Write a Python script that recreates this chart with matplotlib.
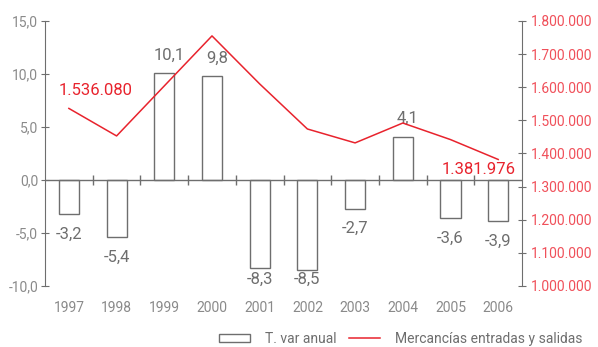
import numpy as np
import matplotlib
matplotlib.use("Agg")
import matplotlib.pyplot as plt
from matplotlib.patches import Patch
from matplotlib.lines import Line2D
from matplotlib.ticker import FuncFormatter

plt.rcParams["font.family"] = ["Roboto", "DejaVu Sans"]

years = ["1997", "1998", "1999", "2000", "2001", "2002", "2003", "2004", "2005", "2006"]
var_anual = [-3.2, -5.4, 10.1, 9.8, -8.3, -8.5, -2.7, 4.1, -3.6, -3.9]
mercancias = [1536080, 1453000, 1604000, 1755000, 1610000, 1474000, 1432000, 1492000, 1442000, 1381976]

gray = "#6e6e6e"
light = "#8a8a8a"
red = "#e8232d"

fig = plt.figure(figsize=(5.98, 3.47), dpi=100)
ax = fig.add_axes([0.0753, 0.1758, 0.873 - 0.0753, 0.9395 - 0.1758])

x = np.arange(len(years))
ax.bar(x, var_anual, width=0.42, color="white", edgecolor=gray, linewidth=1, zorder=3)
ax.set_xlim(-0.5, len(years) - 0.5)
ax.set_ylim(-10, 15)
ax.set_yticks(np.arange(-10, 16, 5))
ax.yaxis.set_major_formatter(FuncFormatter(lambda v, p: f"{v:.1f}".replace(".", ",")))
ax.tick_params(axis="y", direction="inout", length=6, color=gray, labelcolor=light, labelsize=10, pad=2)
ax.set_xticks(x)
ax.set_xticklabels(years)
ax.tick_params(axis="x", length=0, labelcolor=light, labelsize=10, pad=11)

for s in ["top", "bottom", "right"]:
    ax.spines[s].set_visible(False)
ax.spines["left"].set_color(gray)

# zero line with ticks between categories
ax.axhline(0, color=gray, lw=1, zorder=4)
bounds = x[:-1] + 0.5
ax.plot(bounds, np.zeros(len(bounds)), ls="none", marker="|", ms=7, mew=1, color=gray, zorder=4)

for xi, v in zip(x, var_anual):
    lbl = f"{v:.1f}".replace(".", ",")
    if v >= 0:
        ax.text(xi + 0.1, v + 1.7, lbl, ha="center", va="center", color=gray, fontsize=12)
    else:
        ax.text(xi, max(v - 1.9, -9.4), lbl, ha="center", va="center", color=gray, fontsize=12)

ax2 = ax.twinx()
ax2.plot(x, mercancias, color=red, lw=1.1, zorder=5)
ax2.set_ylim(1000000, 1800000)
ax2.set_yticks(np.arange(1000000, 1800001, 100000))
ax2.yaxis.set_major_formatter(FuncFormatter(lambda v, p: f"{int(v):,}".replace(",", ".")))
ax2.tick_params(axis="y", direction="inout", length=6, color=gray, labelcolor="#f0505a", labelsize=10, pad=3)
for s in ["top", "bottom", "left"]:
    ax2.spines[s].set_visible(False)
ax2.spines["right"].set_color(gray)

fmt = lambda v: f"{int(v):,}".replace(",", ".")
ax2.annotate(fmt(mercancias[0]), (x[0], mercancias[0]), xytext=(27, 18), textcoords="offset pixels",
             ha="center", va="center", color=red, fontsize=12)
ax2.annotate(fmt(mercancias[-1]), (x[-1], mercancias[-1]), xytext=(-20, -10), textcoords="offset pixels",
             ha="center", va="center", color=red, fontsize=12)

handles = [Patch(facecolor="white", edgecolor=gray, linewidth=1),
           Line2D([0], [0], color=red, lw=1.1)]
fig.legend(handles, ["T. var anual", "Mercancías entradas y salidas"], loc="lower right",
           bbox_to_anchor=(0.995, -0.032), ncol=2, frameon=False, fontsize=10,
           labelcolor=gray, handlelength=2.2, handleheight=0.5, handletextpad=1.1, columnspacing=0.9)

fig.savefig("out.png", dpi=100)
